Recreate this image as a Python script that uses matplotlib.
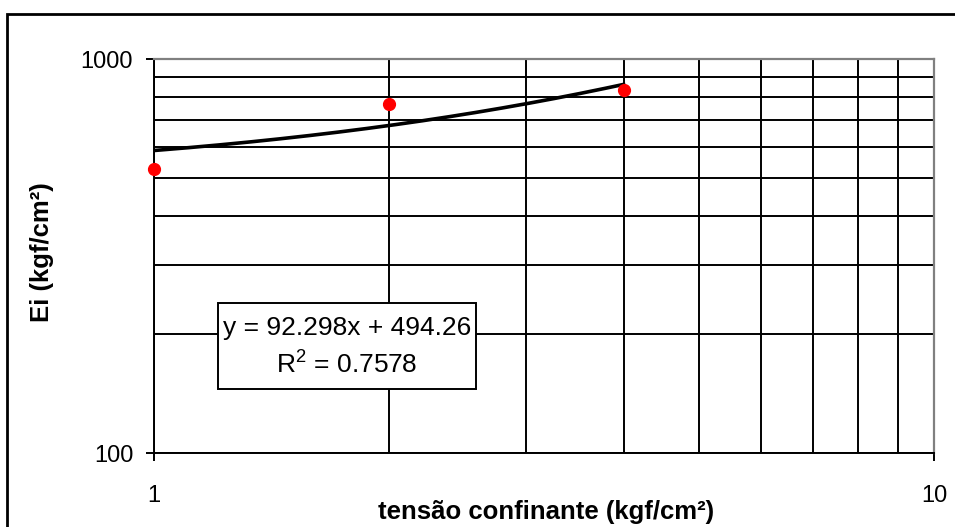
import numpy as np
import matplotlib
matplotlib.use('Agg')
import matplotlib.pyplot as plt
from matplotlib.patches import Rectangle
from matplotlib.ticker import NullFormatter, FixedLocator

plt.rcParams['font.family'] = ['Liberation Sans', 'DejaVu Sans']
plt.rcParams['mathtext.fontset'] = 'custom'
plt.rcParams['mathtext.rm'] = 'Liberation Sans'

# ensaio triaxial: modulo inicial vs tensao confinante
tensao = [1, 2, 4]
ei = [526.3, 769.2, 833.3]

x_ticks = [1, 10]
y_ticks = [100, 1000]
equacao = 'y = 92.298x + 494.26'
r2_texto = 'R$^2$ = 0.7578'

W, H = 955, 527
fig = plt.figure(figsize=(W / 100, H / 100), dpi=100)
ax = fig.add_axes([154 / W, 74 / H, 780 / W, 393.7 / H])

ax.set_xscale('log')
ax.set_yscale('log')
ax.set_xlim(1, 10)
ax.set_ylim(100, 1000)

# grade preta em todas as divisoes (estilo Excel)
ax.grid(which='both', color='black', lw=1.4)
ax.set_axisbelow(True)

ax.xaxis.set_major_locator(FixedLocator(x_ticks))
ax.yaxis.set_major_locator(FixedLocator(y_ticks))
ax.set_xticklabels([str(v) for v in x_ticks])
ax.set_yticklabels([str(v) for v in y_ticks])
ax.xaxis.set_minor_formatter(NullFormatter())
ax.yaxis.set_minor_formatter(NullFormatter())
ax.tick_params(which='minor', length=0)
ax.tick_params(which='major', length=6, width=1.4, color='black', labelsize=17)
ax.tick_params(axis='x', pad=17)
ax.tick_params(axis='y', pad=9)

for s in ['left', 'bottom']:
    ax.spines[s].set_color('black')
    ax.spines[s].set_linewidth(1.4)
for s in ['top', 'right']:
    ax.spines[s].set_color('#808080')
    ax.spines[s].set_linewidth(1.6)

# linha de tendencia linear
coef = np.polyfit(tensao, ei, 1)
xs = np.linspace(min(tensao), max(tensao), 200)
ax.plot(xs, np.polyval(coef, xs), color='black', lw=2.6, zorder=3)

ax.plot(tensao, ei, 'o', color='red', ms=8.5, mec='red', zorder=4, clip_on=False)

# caixa com equacao
box = Rectangle((218 / W, 1 - 389 / H), (476 - 218) / W, (389 - 303) / H,
                transform=fig.transFigure, facecolor='white', edgecolor='black',
                lw=1.4, zorder=5)
fig.add_artist(box)
fig.text(347 / W, 1 - 328 / H, equacao, ha='center', va='center', fontsize=19, zorder=6)
fig.text(347 / W, 1 - 364 / H, r2_texto, ha='center', va='center', fontsize=19, zorder=6)

fig.text(42 / W, 1 - 252 / H, 'Ei (kgf/cm²)', rotation=90, ha='center', va='center',
         fontsize=18.5, fontweight='bold')
fig.text(546 / W, 1 - 512 / H, 'tensão confinante (kgf/cm²)', ha='center', va='center',
         fontsize=18.5, fontweight='bold')

# moldura externa do grafico
frame = Rectangle((7 / W, -0.1), 1.2, 1.1 - 14 / H, transform=fig.transFigure,
                  fill=False, edgecolor='black', lw=2, clip_on=False)
fig.add_artist(frame)

fig.savefig('out.png', dpi=100)
